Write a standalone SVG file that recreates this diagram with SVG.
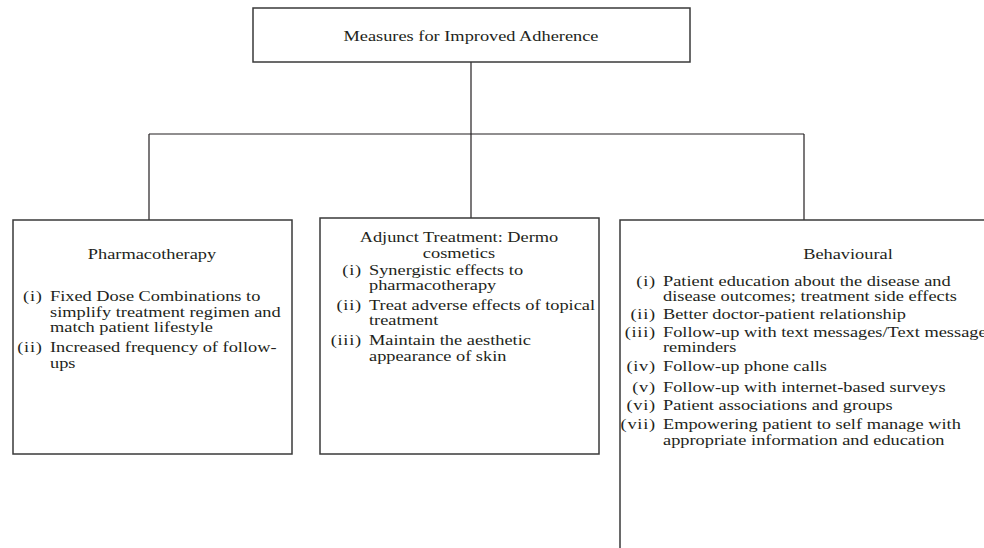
<svg xmlns="http://www.w3.org/2000/svg" width="984" height="548" viewBox="0 0 984 548">
<style>
text { font-family: "Liberation Serif", "Times New Roman", serif; font-size: 15.3px; fill: #231f20; }
.c { text-anchor: middle; }
.box { fill: #ffffff; stroke: #3a3a3a; stroke-width: 1.5; }
.ln { stroke: #231f20; stroke-width: 1.2; fill: none; }
.n { text-anchor: end; letter-spacing: 0.6px; }
</style>
<rect width="984" height="548" fill="#ffffff"/>
<g id="connectors">
<line class="ln" x1="471" y1="62" x2="471" y2="218"/>
<line class="ln" x1="149" y1="134" x2="804" y2="134"/>
<line class="ln" x1="149" y1="134" x2="149" y2="220"/>
<line class="ln" x1="804" y1="134" x2="804" y2="220"/>
</g>
<g id="root">
<rect class="box" x="253" y="8" width="437" height="54"/>
<g transform="scale(1.2 1)">
<text class="c" x="392.5" y="41">Measures for Improved Adherence</text>
</g>
</g>
<g id="pharmacotherapy">
<rect class="box" x="13" y="220" width="279" height="234"/>
<g transform="scale(1.2 1)">
<text class="c" x="126.67" y="259">Pharmacotherapy</text>
<text class="n" x="35.5" y="301">(i)</text>
<text x="41.67" y="301">Fixed Dose Combinations to</text>
<text x="41.67" y="317">simplify treatment regimen and</text>
<text x="41.67" y="332">match patient lifestyle</text>
<text class="n" x="35.5" y="352">(ii)</text>
<text x="41.67" y="352">Increased frequency of follow-</text>
<text x="41.67" y="368">ups</text>
</g>
</g>
<g id="adjunct">
<rect class="box" x="320" y="218" width="279" height="236"/>
<g transform="scale(1.2 1)">
<text class="c" x="382.5" y="242">Adjunct Treatment: Dermo</text>
<text class="c" x="382.5" y="258">cosmetics</text>
<text class="n" x="301.5" y="275">(i)</text>
<text x="307.5" y="275">Synergistic effects to</text>
<text x="307.5" y="290">pharmacotherapy</text>
<text class="n" x="301.5" y="310">(ii)</text>
<text x="307.5" y="310">Treat adverse effects of topical</text>
<text x="307.5" y="325">treatment</text>
<text class="n" x="301.5" y="345">(iii)</text>
<text x="307.5" y="345">Maintain the aesthetic</text>
<text x="307.5" y="361">appearance of skin</text>
</g>
</g>
<g id="behavioural">
<path class="box" d="M990,220 H620 V552"/>
<g transform="scale(1.2 1)">
<text class="c" x="706.67" y="259">Behavioural</text>
<text class="n" x="546.5" y="286">(i)</text>
<text x="552.5" y="286">Patient education about the disease and</text>
<text x="552.5" y="301">disease outcomes; treatment side effects</text>
<text class="n" x="546.5" y="319">(ii)</text>
<text x="552.5" y="319">Better doctor-patient relationship</text>
<text class="n" x="546.5" y="337">(iii)</text>
<text x="552.5" y="337">Follow-up with text messages/Text message</text>
<text x="552.5" y="352">reminders</text>
<text class="n" x="546.5" y="371">(iv)</text>
<text x="552.5" y="371">Follow-up phone calls</text>
<text class="n" x="546.5" y="392">(v)</text>
<text x="552.5" y="392">Follow-up with internet-based surveys</text>
<text class="n" x="546.5" y="410">(vi)</text>
<text x="552.5" y="410">Patient associations and groups</text>
<text class="n" x="546.5" y="429">(vii)</text>
<text x="552.5" y="429">Empowering patient to self manage with</text>
<text x="552.5" y="445">appropriate information and education</text>
</g>
</g>
</svg>
